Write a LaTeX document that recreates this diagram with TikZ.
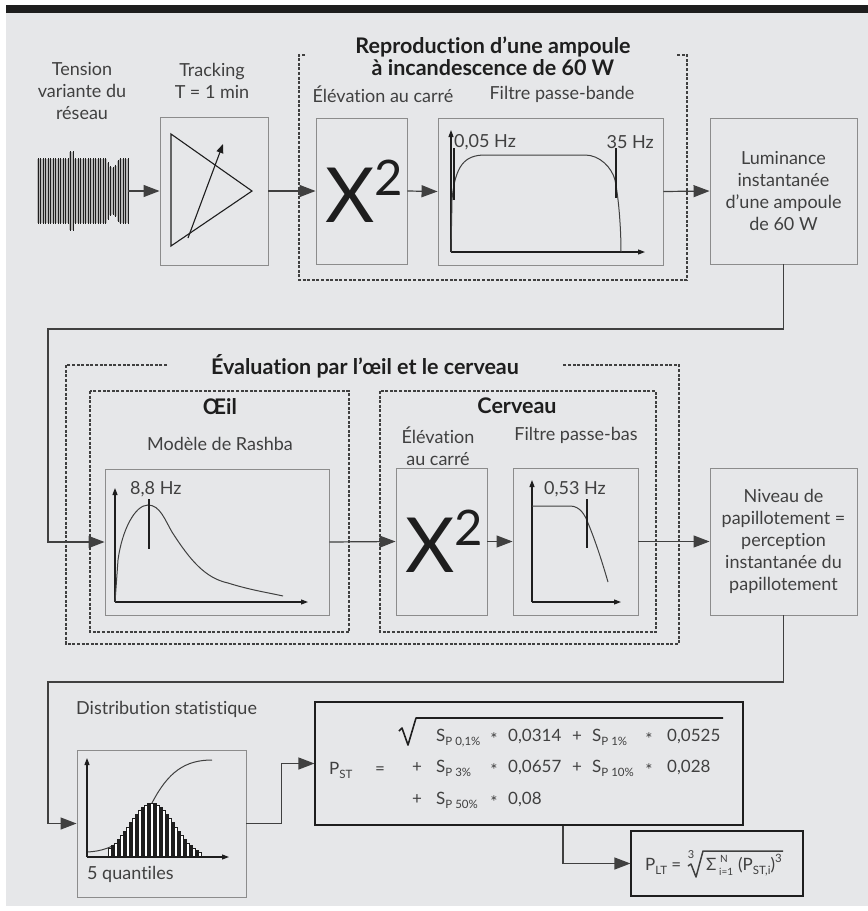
\documentclass[tikz,border=0pt]{standalone}
\usepackage{fontspec}
\setmainfont{Lato}[Ligatures=NoCommon]
\usetikzlibrary{arrows.meta,positioning,calc}
\definecolor{panel}{HTML}{E6E7E9}
\definecolor{ink}{HTML}{404040}
\definecolor{deep}{HTML}{1E1E1E}
\definecolor{frame}{HTML}{8C8C8C}
\newcommand\idx[1]{\raisebox{-4pt}{\fontsize{11.5}{11.5}\selectfont #1}}
\newcommand\upx[1]{\raisebox{8pt}{\fontsize{11.5}{11.5}\selectfont #1}}

\begin{document}
\begin{tikzpicture}[x=1pt,y=-1pt,
  font=\fontsize{18}{22}\selectfont, text=ink,
  gbox/.style={draw=frame,line width=0.9pt,inner sep=0pt,align=center},
  fbox/.style={draw=deep,line width=1.1pt,inner sep=0pt},
  dbox/.style={draw=ink,line width=1.1pt,dash pattern=on 3pt off 1.6pt},
  conn/.style={draw=ink,line width=1.2pt,-{Triangle[length=16pt,width=12pt]}},
  axis/.style={draw=deep,line width=1.1pt,-{Triangle[length=7pt,width=5pt]}},
  curve/.style={draw=ink,line width=1pt},
  cutoff/.style={draw=deep,line width=2.4pt},
  lbl/.style={align=center,inner sep=0pt},
  ttl/.style={align=center,inner sep=0pt,text=deep,font=\fontsize{21.5}{22}\selectfont\bfseries},
  fx/.style={anchor=base west,inner sep=0pt,font=\fontsize{17}{17}\selectfont},
  fc/.style={anchor=base,inner sep=0pt,font=\fontsize{17}{17}\selectfont}
]
\useasboundingbox (0,0) rectangle (868,911);
\fill[white] (0,0) rectangle (868,911);
\fill[panel] (6,13) rectangle (868,906);
\fill[deep] (6,5) rectangle (868,13);

% --- reproduction d'une ampoule
\node[inner sep=0pt,minimum width=91,minimum height=80] (wave) at (82.5,191) {};
\foreach \x in {38,40.5,...,128}{
  \pgfmathsetmacro\hh{ifthenelse(abs(\x-72)<2.5,40,ifthenelse(and(\x>106,\x<119),33-9*sin((\x-106)*180/13),33))}
  \fill[black!28] ({\x-1.25},{191-\hh+1}) rectangle ({\x+1.25},{191+\hh-1});
  \draw[deep,line width=0.8pt] (\x,{191-\hh}) -- (\x,{191+\hh});
}
\node[lbl] (tension) at (82,91) {Tension\\variante du\\réseau};

\node[gbox,minimum width=108,minimum height=148] (track) at (214,191) {};
\node[lbl] (tracklbl) at (212,81) {Tracking\\T = 1 min};
\draw[deep,line width=1.1pt] (171,134) -- (252,191) -- (171,246) -- cycle;
\draw[deep,line width=1.1pt,-{Triangle[length=9pt,width=7pt]}] (188,238) -- (223,144);

\node[gbox,minimum width=91,minimum height=146] (sqa) at (361.5,191) {};
\node[inner sep=0pt,anchor=base west,text=deep,font=\fontsize{76}{76}\selectfont] (xa) at (325,222) {X\raisebox{27pt}{\fontsize{49}{49}\selectfont 2}};
\node[lbl] (sqalbl) at (383,94) {Élévation au carré};

\node[gbox,minimum width=225,minimum height=147] (bp) at (550.5,191.5) {};
\node[lbl] (bplbl) at (562,94) {Filtre passe-bande};
\draw[axis] (451,252) -- (451,130);
\draw[axis] (451,252) -- (645,252);
\draw[curve] (451,252) -- (452,200) .. controls (455,165) and (465,155) .. (485,155) -- (585,155)
  .. controls (600,155) and (612,168) .. (615,180) .. controls (619,200) and (621,230) .. (621,252);
\draw[cutoff] (454,148) -- (454,200);
\draw[cutoff] (616,148) -- (616,198);
\node[lbl,anchor=west] (fbas) at (454,142) {0,05 Hz};
\node[lbl,anchor=east] (fhaut) at (654,142) {35 Hz};

\node[ttl] (reprottl) at (493,56) {Reproduction d’une ampoule\\à incandescence de 60 W};
\draw[dbox] (305,55) -| (299,280) -| (687,55) -- (677,55);

\node[gbox,minimum width=147,minimum height=146] (lum) at (783.5,191) {Luminance\\instantanée\\d’une ampoule\\de 60 W};

\draw[conn] (wave.east) -- (track.west);
\draw[conn] (track.east) -- (sqa.west);
\draw[conn] (sqa.east) -- (bp.west);
\draw[conn] (bp.east) -- (lum.west);

% --- evaluation par l'oeil et le cerveau
\node[gbox,minimum width=224,minimum height=146] (rashba) at (217,542) {};
\node[ttl] (oeil) at (220,407) {Œil};
\node[lbl] (rashbalbl) at (220,444) {Modèle de Rashba};
\draw[axis] (115,602) -- (115,488);
\draw[axis] (115,602) -- (308,602);
\draw[curve] (115,602) -- (118,560) .. controls (122,530) and (135,505) .. (148,505)
  .. controls (160,505) and (165,520) .. (172,532) .. controls (190,560) and (205,578) .. (228,583)
  .. controls (250,590) and (270,593) .. (283,596);
\draw[cutoff] (149,499) -- (149,549);
\node[lbl,anchor=west] (frash) at (130,489) {8,8 Hz};

\node[gbox,minimum width=91,minimum height=147] (sqb) at (441.5,541.5) {};
\node[inner sep=0pt,anchor=base west,text=deep,font=\fontsize{76}{76}\selectfont] (xb) at (405,572) {X\raisebox{27pt}{\fontsize{49}{49}\selectfont 2}};
\node[ttl] (cerveau) at (517,406) {Cerveau};
\node[lbl] (sqblbl) at (438,446) {Élévation\\au carré};

\node[gbox,minimum width=125,minimum height=147] (lp) at (575.5,541.5) {};
\node[lbl] (lplbl) at (576,435) {Filtre passe-bas};
\draw[axis] (532,602) -- (532,480);
\draw[axis] (532,602) -- (621,602);
\draw[curve] (532,506) -- (570,506) .. controls (580,506) and (585,515) .. (588,523)
  .. controls (597,545) and (603,565) .. (608,582);
\draw[cutoff] (587,499) -- (587,548);
\node[lbl] (flp) at (575,489) {0,53 Hz};

\node[ttl] (evalttl) at (365,366) {Évaluation par l’œil et le cerveau};
\draw[dbox] (167,365) -| (66,644) -| (679,365) -- (562,365);
\draw[dbox] (90,391) rectangle (349,632);
\draw[dbox] (380,391) rectangle (656,632);

\node[gbox,minimum width=147,minimum height=147] (niv) at (783.5,541.5) {Niveau de\\papillotement =\\perception\\instantanée du\\papillotement};

\coordinate (turna) at (48,329);
\draw[conn] (lum.south) |- (turna) |- (rashba.west);
\draw[conn] (rashba.east) -- (sqb.west);
\draw[conn] (sqb.east) -- (lp.west);
\draw[conn] (lp.east) -- (niv.west);

% --- distribution statistique
\node[gbox,minimum width=169,minimum height=147] (dist) at (161.5,823.5) {};
\node[lbl,anchor=west] (distlbl) at (76,709) {Distribution statistique};
\node[lbl,anchor=west] (quant) at (87,874) {5 quantiles};
\draw[curve] (87,852) .. controls (115,851) and (135,835) .. (152,803) .. controls (168,772) and (185,760) .. (212,760);
\foreach \x in {110,116,...,200}{
  \pgfmathsetmacro\hh{54*exp(-((\x-152)^2)/968)}
  \draw[deep,fill=white,line width=0.6pt] ({\x-1.5},857) rectangle ({\x+1.5},{857-\hh});
}
\foreach \x in {113,119,...,197}{
  \pgfmathsetmacro\hh{54*exp(-((\x-152)^2)/968)}
  \draw[deep,fill=deep,line width=0.6pt] ({\x-1.5},857) rectangle ({\x+1.5},{857-\hh});
}
\draw[axis] (87,857) -- (87,758);
\draw[axis] (87,857) -- (229,857);

\coordinate (turnb) at (48,682);
\draw[conn] (niv.south) |- (turnb) |- (dist.west);

% --- formules
\node[fbox,minimum width=428,minimum height=123] (pst) at (529,763.5) {};
\node[fx] (pstl) at (329,774) {P\idx{ST}};
\node[fc] (eq) at (380,774) {=};
\draw[deep,line width=1.6pt,line join=round] (399,731) -- (402,728) -- (408,745) -- (416,718) -- (723,718);
\foreach \yb/\pa/\ca [count=\r] in {741/{P 0,1\%}/{0,0314},772/{P 3\%}/{0,0657},804/{P 50\%}/{0,08}}{
  \node[fx] (sa\r) at (436,\yb) {S\idx{\pa}};
  \node[fc] (ma\r) at (494,\yb) {\raisebox{-4pt}{*}};
  \node[fx] (ca\r) at (508,\yb) {\ca};
}
\foreach \yb/\pb/\cb [count=\r] in {741/{P 1\%}/{0,0525},772/{P 10\%}/{0,028}}{
  \node[fc] (pb\r) at (577,\yb) {+};
  \node[fx] (sb\r) at (592,\yb) {S\idx{\pb}};
  \node[fc] (mb\r) at (649,\yb) {\raisebox{-4pt}{*}};
  \node[fx] (cb\r) at (667,\yb) {\cb};
}
\node[fc] (pa2) at (417,772) {+};
\node[fc] (pa3) at (417,804) {+};

\node[fbox,minimum width=172,minimum height=65] (plt) at (717,863.5) {};
\node[fx] (pltl) at (645,870) {P\idx{LT} =};
\node[inner sep=0pt,font=\fontsize{11}{11}\selectfont] (rt) at (691,855) {3};
\draw[ink,line width=1.5pt,line join=round] (688,866) -- (691,864) -- (696,877) -- (703,851) -- (783,851);
\node[fx] (sig) at (706,870) {Σ};
\node[inner sep=0pt,anchor=base west,font=\fontsize{10}{10}\selectfont] (nup) at (720,862) {N};
\node[inner sep=0pt,anchor=base west,font=\fontsize{10}{10}\selectfont] (ilow) at (719,875) {i=1};
\node[fx] (pstij) at (738,870) {(P\idx{ST,i})\upx{3}};

\draw[conn] (dist.east) -- ++(35,0) |- (pst.west);
\draw[conn] ([xshift=34pt]pst.south) |- (plt.west);
\end{tikzpicture}
\end{document}
